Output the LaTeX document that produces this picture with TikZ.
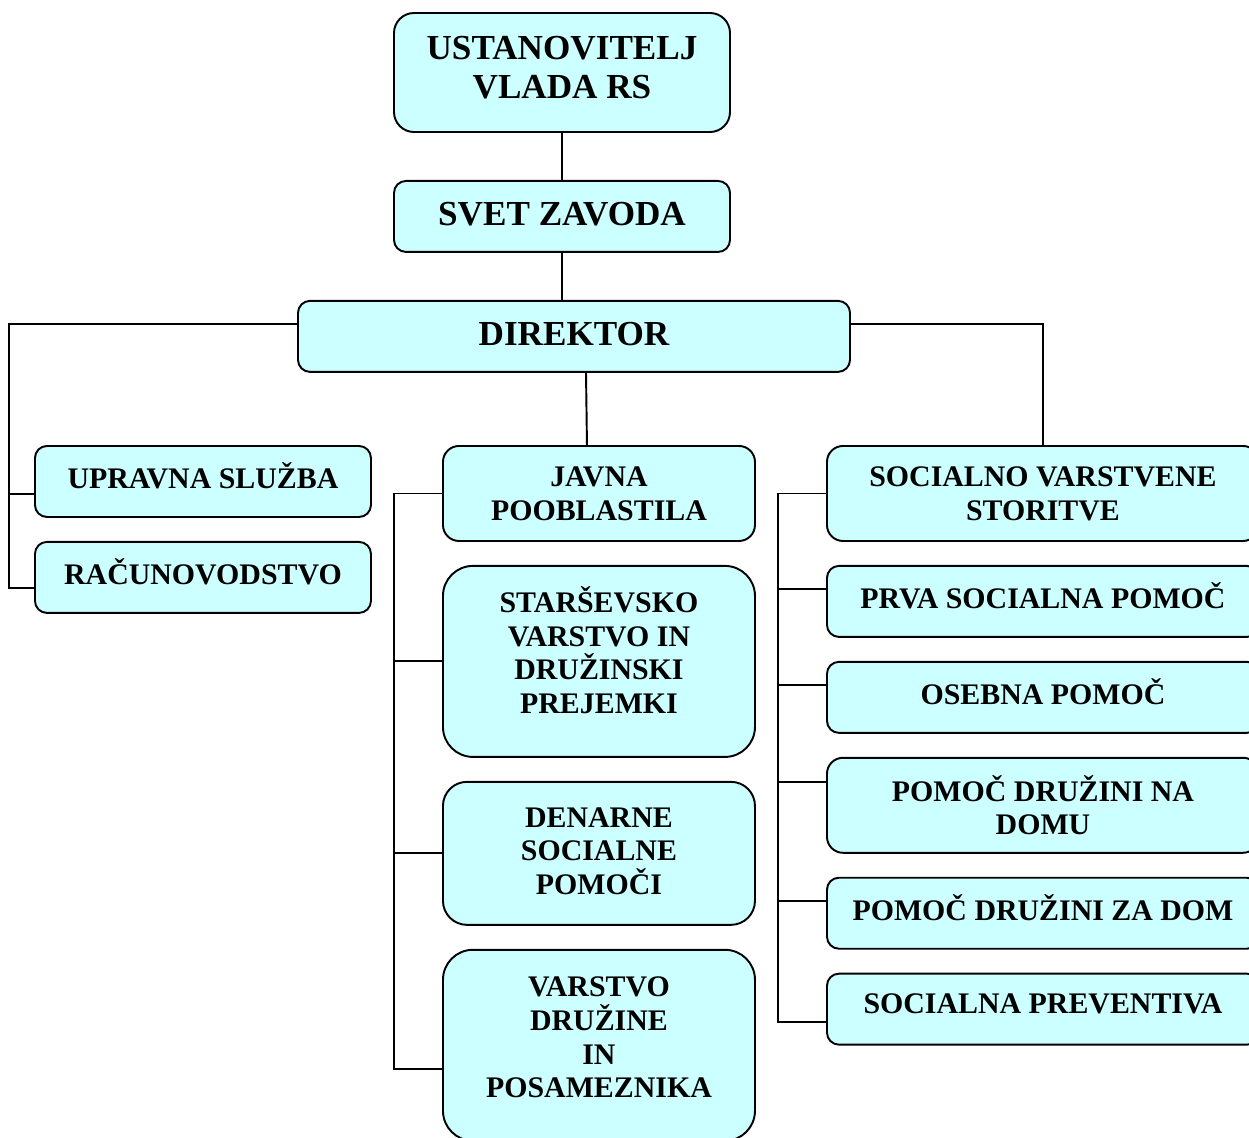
\documentclass[tikz,border=0pt]{standalone}
\usepackage{fontspec}
\setmainfont{Liberation Serif}
\definecolor{boxcyan}{RGB}{204, 255, 255}
\usetikzlibrary{positioning, calc}

\begin{document}
\begin{tikzpicture}[
    unit/.style={rectangle, draw, line width=1.1pt, fill=boxcyan, rounded corners=0.24cm, align=center, inner sep=0pt, font=\fontsize{17}{19.2}\selectfont\bfseries},
    lift/.style={execute at end node={\rule[-#1]{0pt}{0pt}}},
    head/.style={unit, minimum width=6.72cm, minimum height=1.42cm, font=\fontsize{20}{22}\selectfont\bfseries, lift=2.8pt},
    side/.style={unit, minimum width=6.72cm, minimum height=1.42cm, lift=6.8pt},
    mid/.style={unit, minimum width=6.24cm},
    wide/.style={unit, minimum width=8.64cm, minimum height=1.42cm},
    link/.style={line width=1.1pt},
    node distance=0.46cm
]
    \useasboundingbox (0,0) rectangle (24.98,-22.74);

    \node[head, minimum height=2.38cm, rounded corners=0.4cm, lift=5.7pt] (ustanovitelj) at (11.24,-1.45) {USTANOVITELJ\\VLADA RS};
    \node[head, below=0.94cm of ustanovitelj] (svet) {SVET ZAVODA};
    \node[head, minimum width=11.04cm, below=0.94cm of svet, xshift=0.24cm] (direktor) {DIREKTOR};

    \node[side, anchor=north west] (upravna) at (0.68,-8.9) {UPRAVNA SLUŽBA};
    \node[side, below=of upravna] (racun) {RAČUNOVODSTVO};

    \node[mid, minimum height=1.9cm, rounded corners=0.32cm, anchor=north west] (javna) at (8.84,-8.9) {JAVNA\\POOBLASTILA};
    \node[mid, minimum height=3.82cm, rounded corners=0.6cm, lift=13pt, below=of javna] (stars) {STARŠEVSKO\\VARSTVO IN\\DRUŽINSKI\\PREJEMKI};
    \node[mid, minimum height=2.86cm, rounded corners=0.48cm, lift=2.8pt, below=of stars] (denarne) {DENARNE\\SOCIALNE\\POMOČI};
    \node[mid, minimum height=3.82cm, rounded corners=0.6cm, lift=9pt, below=of denarne] (varstvo) {VARSTVO\\DRUŽINE\\IN\\POSAMEZNIKA};

    \node[wide, minimum height=1.9cm, rounded corners=0.32cm, anchor=north west] (socialno) at (16.52,-8.9) {SOCIALNO VARSTVENE\\STORITVE};
    \node[wide, lift=6.8pt, below=of socialno] (prva) {PRVA SOCIALNA POMOČ};
    \node[wide, lift=6.8pt, below=of prva] (osebna) {OSEBNA POMOČ};
    \node[wide, minimum height=1.9cm, rounded corners=0.32cm, below=of osebna] (domu) {POMOČ DRUŽINI NA\\DOMU};
    \node[wide, lift=6.8pt, below=of domu] (zadom) {POMOČ DRUŽINI ZA DOM};
    \node[wide, lift=6.8pt, below=of zadom] (preventiva) {SOCIALNA PREVENTIVA};

    \draw[link] (ustanovitelj) -- (svet);
    \draw[link] (svet) -- ([xshift=-0.24cm]direktor.north);
    \draw[link] ([yshift=0.24cm]direktor.west) -| ([xshift=-0.5cm, yshift=-0.21cm]racun.west) -- ([yshift=-0.21cm]racun.west);
    \draw[link] ([yshift=-0.25cm]upravna.west) -- ++(-0.5,0);
    \draw[link] ([xshift=0.24cm]direktor.south) -- ([xshift=-0.24cm]javna.north);
    \draw[link] ([yshift=0.24cm]direktor.east) -| (socialno.north);

    \draw[link] (javna.west) -- ++(-0.96,0) |- ([yshift=-0.48cm]varstvo.west);
    \foreach \n in {stars, denarne}
        \draw[link] (\n.west) -- ++(-0.96,0);

    \draw[link] (socialno.west) -- ++(-0.96,0) |- ([yshift=-0.25cm]preventiva.west);
    \foreach \n in {prva, osebna, zadom}
        \draw[link] ([yshift=0.24cm]\n.west) -- ++(-0.96,0);
    \draw[link] ([yshift=0.47cm]domu.west) -- ++(-0.96,0);
\end{tikzpicture}
\end{document}
